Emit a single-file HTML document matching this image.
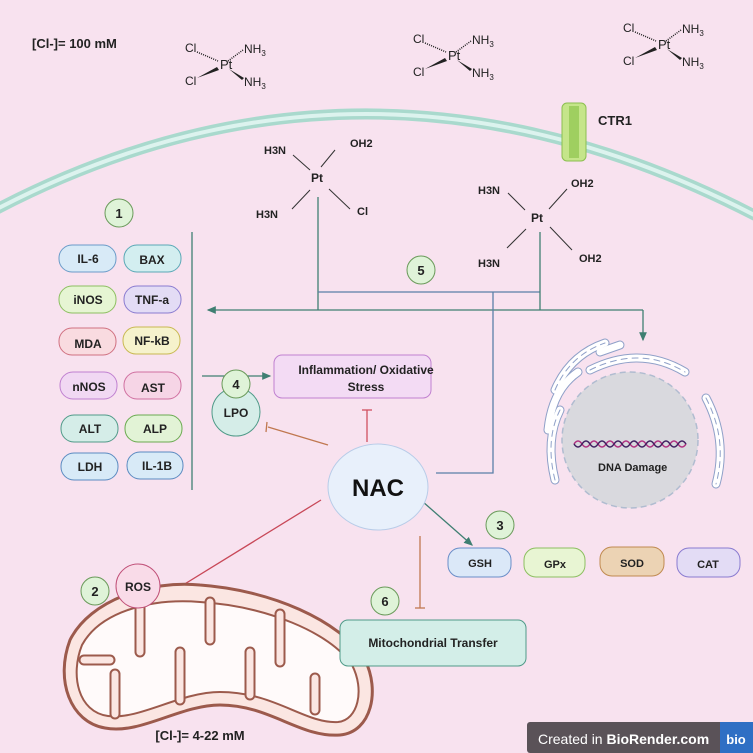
<!DOCTYPE html>
<html><head><meta charset="utf-8"><style>
body{margin:0;background:#f8e2ef}
svg{display:block;font-family:"Liberation Sans",sans-serif}
</style></head><body>
<svg width="753" height="753" viewBox="0 0 753 753" xmlns="http://www.w3.org/2000/svg">
<rect width="753" height="753" fill="#f8e2ef"/>
<defs>
<marker id="ag" markerWidth="8" markerHeight="8" refX="6" refY="4" orient="auto"><path d="M0,1 L7,4 L0,7z" fill="#3f7f72"/></marker>
<g id="cis" font-size="12" fill="#222">
<text x="-37" y="-12">Cl</text><text x="-2" y="5" font-size="13">Pt</text>
<text x="22" y="-11">NH<tspan font-size="8" dy="3">3</tspan></text>
<text x="-37" y="21">Cl</text><text x="22" y="22">NH<tspan font-size="8" dy="3">3</tspan></text>
<path d="M-25,-12 L-4,-3" stroke="#222" stroke-width="1.5" stroke-dasharray="1,1.2"/>
<path d="M21,-14 L6,-3" stroke="#222" stroke-width="1.5" stroke-dasharray="1,1.2"/>
<path d="M-25,14 L-5,3 L-3,6z" fill="#222"/>
<path d="M7,5 L22,14 L20,16z" fill="#222"/>
</g>
</defs>
<text x="32" y="48" font-size="13" font-weight="bold" fill="#222">[Cl-]= 100 mM</text>
<use href="#cis" x="222" y="64"/>
<use href="#cis" x="450" y="55"/>
<use href="#cis" x="660" y="44"/>
<!-- membrane -->
<path d="M-5,210 Q370,14 760,218" fill="none" stroke="#a9d9cd" stroke-width="11"/>
<path d="M-5,210 Q370,14 760,218" fill="none" stroke="#dcf3ee" stroke-width="4"/>
<!-- CTR1 -->
<rect x="562" y="103" width="24" height="58" rx="5" fill="#c5e58a" stroke="#8cbf50"/>
<rect x="569" y="106" width="10" height="52" fill="#9fcf60"/>
<text x="598" y="125" font-size="13" font-weight="bold" fill="#222">CTR1</text>
<!-- aquated Pt -->
<g font-size="11" font-weight="bold" fill="#222" stroke="#333" stroke-width="1">
<text x="264" y="154" stroke="none">H3N</text><text x="350" y="147" stroke="none">OH2</text>
<text x="311" y="182" stroke="none" font-size="12">Pt</text>
<text x="256" y="218" stroke="none">H3N</text><text x="357" y="215" stroke="none">Cl</text>
<line x1="293" y1="155" x2="310" y2="170"/><line x1="335" y1="150" x2="321" y2="167"/>
<line x1="310" y1="190" x2="292" y2="209"/><line x1="329" y1="189" x2="350" y2="209"/>
<text x="478" y="194" stroke="none">H3N</text><text x="571" y="187" stroke="none">OH2</text>
<text x="531" y="222" stroke="none" font-size="12">Pt</text>
<text x="478" y="267" stroke="none">H3N</text><text x="579" y="262" stroke="none">OH2</text>
<line x1="508" y1="193" x2="525" y2="210"/><line x1="567" y1="189" x2="549" y2="209"/>
<line x1="526" y1="229" x2="507" y2="248"/><line x1="550" y1="227" x2="572" y2="250"/>
</g>
<!-- connectors -->
<g fill="none" stroke-width="1.3">
<line x1="318" y1="197" x2="318" y2="310" stroke="#3f7f72"/>
<line x1="318" y1="292" x2="540" y2="292" stroke="#5a7fa8"/>
<line x1="540" y1="232" x2="540" y2="310" stroke="#3f7f72"/>
<line x1="643" y1="310" x2="208" y2="310" stroke="#3f7f72" marker-end="url(#ag)"/>
<line x1="643" y1="310" x2="643" y2="340" stroke="#3f7f72" marker-end="url(#ag)"/>
<polyline points="493,292 493,473 436,473" stroke="#5a7fa8"/>
<line x1="192" y1="232" x2="192" y2="490" stroke="#3f7f72"/>
<line x1="202" y1="376" x2="270" y2="376" stroke="#3f7f72" marker-end="url(#ag)"/>
<line x1="367" y1="442" x2="367" y2="410" stroke="#d05060"/><line x1="362" y1="410" x2="372" y2="410" stroke="#d05060"/>
<line x1="328" y1="445" x2="268" y2="427" stroke="#c07850"/><line x1="267" y1="422" x2="266" y2="432" stroke="#c07850"/>
<line x1="321" y1="500" x2="162" y2="598" stroke="#c84858"/><line x1="158" y1="593" x2="164" y2="602" stroke="#c84858"/>
<line x1="420" y1="536" x2="420" y2="608" stroke="#c07850"/><line x1="415" y1="608" x2="425" y2="608" stroke="#c07850"/>
<line x1="414" y1="494" x2="472" y2="545" stroke="#3f7f72" marker-end="url(#ag)"/>
</g>
<!-- pills -->
<g font-size="12" font-weight="bold" fill="#222" text-anchor="middle">
<rect x="59" y="245" width="57" height="27" rx="13" fill="#d8eaf7" stroke="#6a9bc8"/><text x="88" y="263">IL-6</text>
<rect x="124" y="245" width="57" height="27" rx="13" fill="#d3eef0" stroke="#5aa8b6"/><text x="152" y="264">BAX</text>
<rect x="59" y="286" width="57" height="27" rx="13" fill="#e6f5d3" stroke="#8cbf60"/><text x="88" y="304">iNOS</text>
<rect x="124" y="286" width="57" height="27" rx="13" fill="#e3dcf5" stroke="#8a7bd0"/><text x="152" y="304">TNF-a</text>
<rect x="59" y="328" width="57" height="27" rx="13" fill="#f9dbe0" stroke="#d07080"/><text x="88" y="348">MDA</text>
<rect x="123" y="327" width="57" height="27" rx="13" fill="#f6f2cc" stroke="#c8b850"/><text x="152" y="345">NF-kB</text>
<rect x="60" y="372" width="57" height="27" rx="13" fill="#f1d8f3" stroke="#c080d0"/><text x="89" y="391">nNOS</text>
<rect x="124" y="372" width="57" height="27" rx="13" fill="#f6d5e6" stroke="#d070a0"/><text x="153" y="392">AST</text>
<rect x="61" y="415" width="57" height="27" rx="13" fill="#d5ede8" stroke="#4f9a88"/><text x="90" y="433">ALT</text>
<rect x="125" y="415" width="57" height="27" rx="13" fill="#e2f3d6" stroke="#6aaa50"/><text x="155" y="433">ALP</text>
<rect x="61" y="453" width="57" height="27" rx="13" fill="#d8eaf7" stroke="#5a8ac0"/><text x="90" y="471">LDH</text>
<rect x="127" y="452" width="56" height="27" rx="13" fill="#d8eaf7" stroke="#5a8ac0"/><text x="157" y="470">IL-1B</text>
<rect x="274" y="355" width="157" height="43" rx="8" fill="#f3dbf4" stroke="#c080d0"/>
<text x="366" y="374">Inflammation/ Oxidative</text><text x="366" y="391">Stress</text>
<rect x="448" y="548" width="63" height="29" rx="12" fill="#dbe8f8" stroke="#6a8ec8"/><text x="480" y="567" font-size="11">GSH</text>
<rect x="524" y="548" width="61" height="29" rx="12" fill="#e8f5d3" stroke="#8cbf60"/><text x="555" y="568" font-size="11">GPx</text>
<rect x="600" y="547" width="64" height="29" rx="12" fill="#ecd3b4" stroke="#c08a50"/><text x="632" y="567" font-size="11">SOD</text>
<rect x="677" y="548" width="63" height="29" rx="12" fill="#e3dcf5" stroke="#8a7bd0"/><text x="708" y="568" font-size="11">CAT</text>
</g>
<!-- ER -->
<g fill="none" stroke-linecap="round">
<g stroke="#8fa0c8" stroke-width="9">
<path d="M555,390 Q570,355 605,343"/><path d="M590,370 Q640,345 685,372"/><path d="M548,430 Q552,390 578,372"/>
<path d="M706,398 Q728,440 716,484"/><path d="M555,480 Q545,440 560,410"/><path d="M600,352 L620,345"/>
</g>
<g stroke="#ffffff" stroke-width="7">
<path d="M555,390 Q570,355 605,343"/><path d="M590,370 Q640,345 685,372"/><path d="M548,430 Q552,390 578,372"/>
<path d="M706,398 Q728,440 716,484"/><path d="M555,480 Q545,440 560,410"/><path d="M600,352 L620,345"/>
</g>
<g stroke="#8fa0c8" stroke-width="1" stroke-dasharray="6,5">
<path d="M555,390 Q570,355 605,343"/><path d="M590,370 Q640,345 685,372"/><path d="M706,398 Q728,440 716,484"/><path d="M555,480 Q545,440 560,410"/>
</g>
</g>
<circle cx="630" cy="440" r="68" fill="#d9d9de" stroke="#b0bcd0" stroke-width="1.5" stroke-dasharray="6,4"/>
<path d="M574,444 q4,-6 8,0 t8,0 t8,0 t8,0 t8,0 t8,0 t8,0 t8,0 t8,0 t8,0 t8,0 t8,0 t8,0 t8,0" fill="none" stroke="#b03080" stroke-width="1.5"/>
<path d="M574,444 q4,6 8,0 t8,0 t8,0 t8,0 t8,0 t8,0 t8,0 t8,0 t8,0 t8,0 t8,0 t8,0 t8,0 t8,0" fill="none" stroke="#402060" stroke-width="1.5"/>
<text x="598" y="471" font-size="11" font-weight="bold" fill="#222">DNA Damage</text>
<!-- NAC -->
<ellipse cx="378" cy="487" rx="50" ry="43" fill="#e8f0fb" stroke="#b8cce8"/>
<text x="378" y="496" font-size="24" font-weight="bold" text-anchor="middle" fill="#111">NAC</text>
<!-- LPO -->
<circle cx="236" cy="412" r="24" fill="#d5ede8" stroke="#4f9a88"/>
<text x="236" y="417" font-size="12" font-weight="bold" text-anchor="middle" fill="#222">LPO</text>
<!-- mitochondrion -->
<path d="M70,640 C90,600 150,580 200,585 C270,590 340,620 365,660 C380,690 372,732 340,735 C300,738 270,705 220,705 C180,705 140,735 105,728 C70,722 55,680 70,640z" fill="#fbe6e2" stroke="#9c5a4c" stroke-width="3"/>
<path d="M82,645 C100,612 150,598 200,602 C265,606 330,632 352,665 C365,690 358,720 338,722 C305,724 275,692 220,692 C180,692 140,720 108,716 C78,712 70,675 82,645z" fill="#fffafa" stroke="#9c5a4c" stroke-width="2"/>
<g fill="none" stroke-linecap="round">
<g stroke="#9c5a4c" stroke-width="11">
<path d="M140,600 L140,652"/><path d="M210,602 L210,640"/><path d="M280,614 L280,662"/>
<path d="M115,714 L115,674"/><path d="M180,700 L180,652"/><path d="M250,695 L250,652"/><path d="M315,710 L315,678"/>
<path d="M84,660 L110,660"/>
</g>
<g stroke="#fbe6e2" stroke-width="7">
<path d="M140,600 L140,652"/><path d="M210,602 L210,640"/><path d="M280,614 L280,662"/>
<path d="M115,714 L115,674"/><path d="M180,700 L180,652"/><path d="M250,695 L250,652"/><path d="M315,710 L315,678"/>
<path d="M84,660 L110,660"/>
</g>
</g>
<text x="200" y="740" font-size="13" font-weight="bold" text-anchor="middle" fill="#222">[Cl-]= 4-22 mM</text>
<circle cx="138" cy="586" r="22" fill="#f9dbe8" stroke="#c05078"/>
<text x="138" y="591" font-size="12" font-weight="bold" text-anchor="middle" fill="#222">ROS</text>
<rect x="340" y="620" width="186" height="46" rx="8" fill="#d3eee8" stroke="#4f9a88"/>
<text x="433" y="647" font-size="12" font-weight="bold" text-anchor="middle" fill="#222">Mitochondrial Transfer</text>
<!-- numbers -->
<g fill="#dff3d8" stroke="#6a9a5a">
<circle cx="119" cy="213" r="14"/><circle cx="421" cy="270" r="14"/>
<circle cx="236" cy="384" r="14"/><circle cx="95" cy="591" r="14"/><circle cx="500" cy="525" r="14"/><circle cx="385" cy="601" r="14"/>
</g>
<g font-size="13" font-weight="bold" text-anchor="middle" fill="#222">
<text x="119" y="218">1</text><text x="421" y="275">5</text><text x="236" y="389">4</text><text x="95" y="596">2</text><text x="500" y="530">3</text><text x="385" y="606">6</text>
</g>
<!-- badge -->
<rect x="527" y="722" width="226" height="31" rx="3" fill="#5a5258"/>
<rect x="720" y="722" width="33" height="31" fill="#2f6fc4"/>
<text x="538" y="744" font-size="14" fill="#fff">Created in <tspan font-weight="bold">BioRender.com</tspan></text>
<text x="736" y="744" font-size="13" font-weight="bold" fill="#fff" text-anchor="middle">bio</text>
</svg>
</body></html>
